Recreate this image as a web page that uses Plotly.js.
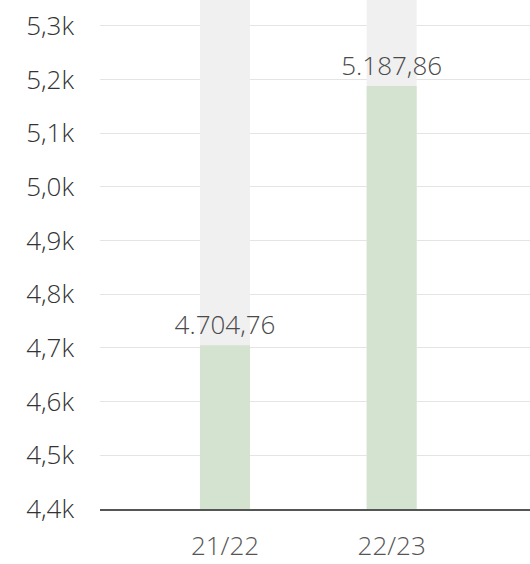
<!DOCTYPE html>
<html>
<head>
<meta charset="utf-8">
<script src="https://cdn.plot.ly/plotly-3.0.1.min.js"></script>
<style>html,body{margin:0;padding:0;background:#fff;overflow:hidden}#chart{width:530px;height:564px}</style>
</head>
<body>
<div id="chart"></div>
<script>
const categories = ['21/22', '22/23'];
const values = [4704.76, 5187.86];
const yTickVals = [4400, 4500, 4600, 4700, 4800, 4900, 5000, 5100, 5200, 5300];
const yTickText = ['4,4k', '4,5k', '4,6k', '4,7k', '4,8k', '4,9k', '5,0k', '5,1k', '5,2k', '5,3k'];
const yMin = 4400, yMax = 5348;
const background = categories.map(() => yMax);

const fontFam = '"Open Sans", "DejaVu Sans", sans-serif';

const traces = [
  {
    type: 'bar', x: categories, y: background, base: 0,
    marker: {color: '#f0f0f0'}, hoverinfo: 'skip', showlegend: false
  },
  {
    type: 'bar', x: categories, y: values,
    marker: {color: '#d4e3d0'},
    texttemplate: '%{y:,.2f}', textposition: 'outside', constraintext: 'none',
    textfont: {family: fontFam, size: 26, color: '#4a4a4a', weight: 300},
    cliponaxis: false, showlegend: false
  }
];

const layout = {
  width: 530, height: 564,
  margin: {l: 100, r: 0, t: 0, b: 55},
  paper_bgcolor: '#fff', plot_bgcolor: '#fff',
  separators: ',.',
  barmode: 'overlay', bargap: 0.7,
  font: {family: fontFam, color: '#333', size: 26, weight: 300},
  xaxis: {
    type: 'category', range: [-0.75, 1.83],
    showgrid: false, zeroline: false,
    showline: true, linecolor: '#555', linewidth: 2,
    ticks: '', ticklabelstandoff: 13,
    tickfont: {family: fontFam, size: 26, color: '#555', weight: 300}
  },
  yaxis: {
    range: [yMin, yMax],
    tickvals: yTickVals, ticktext: yTickText,
    showgrid: true, gridcolor: '#e4e4e4', gridwidth: 1,
    zeroline: false, showline: false, ticks: '',
    ticklabelstandoff: 25,
    tickfont: {family: fontFam, size: 26, color: '#333', weight: 300}
  }
};

Plotly.newPlot('chart', traces, layout, {displayModeBar: false, staticPlot: true});
</script>
</body>
</html>
